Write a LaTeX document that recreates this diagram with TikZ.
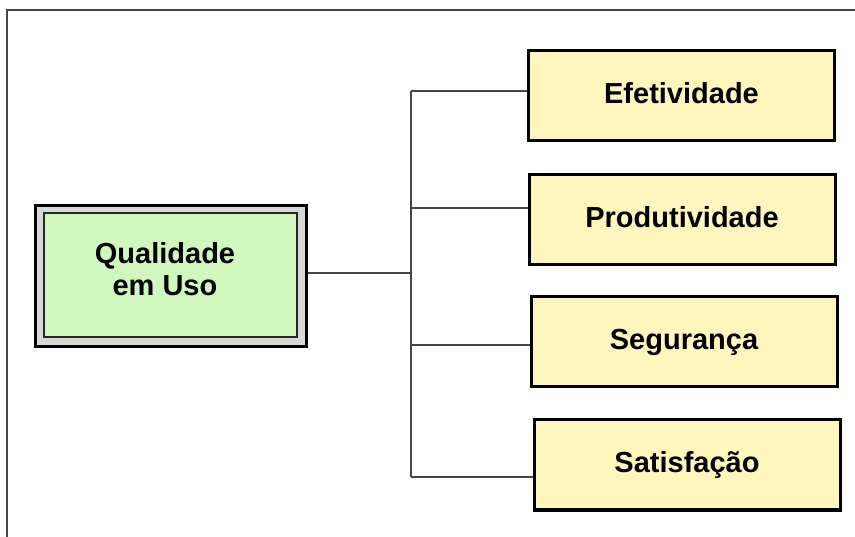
\documentclass[tikz,border=0pt]{standalone}
\usepackage{fontspec}
\setmainfont{Liberation Sans}
\definecolor{leafyellow}{HTML}{FFF6BE}
\definecolor{rootgreen}{HTML}{D0F8BE}
\definecolor{rimgray}{HTML}{D8D8D8}
\definecolor{linegray}{HTML}{454545}
\begin{document}
\begin{tikzpicture}[x=1pt,y=-1pt,
  frameline/.style={draw=linegray, line width=2pt},
  link/.style={draw=linegray, line width=1.6pt},
  labelfont/.style={font=\fontsize{29}{31.5}\selectfont\bfseries},
  leaf/.style={rectangle, draw=black, line width=3pt, fill=leafyellow,
    minimum width=306pt, minimum height=90pt, inner sep=0pt,
    text height=21pt, text depth=5pt, labelfont},
  rootrim/.style={rectangle, draw=black, line width=3pt, fill=rimgray,
    minimum width=271pt, minimum height=141pt, inner sep=0pt},
  rootcore/.style={rectangle, draw=black!85, line width=1.3pt, fill=rootgreen,
    minimum width=253pt, minimum height=124pt, inner sep=0pt},
  rootlabel/.style={align=center, inner sep=0pt, labelfont}]
  \useasboundingbox (0,0) rectangle (855,537);

  % outer frame (top and left edges)
  \coordinate (fbl) at (7,540);
  \coordinate (ftl) at (7,10);
  \coordinate (ftr) at (858,10);
  \draw[frameline] (fbl) -- (ftl) -- (ftr);

  % root box
  \node[rootrim] (root) at (171,276) {};
  \node[rootcore] (rootin) at (170.5,275) {};
  \node[rootlabel] (roottext) at (165,269) {Qualidade\\em Uso};

  % leaf boxes
  \node[leaf] (eff) at (681.5,95.5) {Efetividade};
  \node[leaf] (prod) at (682,219.5) {Produtividade};
  \node[leaf] (seg) at (684,341.5) {Segurança};
  \node[leaf] (sat) at (687,465) {Satisfação};

  % trunk junctions
  \coordinate (jroot) at (411,273);
  \coordinate (j1) at (411,91);
  \coordinate (j2) at (411,208);
  \coordinate (j3) at (411,345);
  \coordinate (j4) at (411,477);

  \draw[link] (root.east |- jroot) -- (jroot);
  \draw[link] (j1) -- (j4);
  \draw[link] (j1) -- (j1 -| eff.west);
  \draw[link] (j2) -- (j2 -| prod.west);
  \draw[link] (j3) -- (j3 -| seg.west);
  \draw[link] (j4) -- (j4 -| sat.west);
\end{tikzpicture}
\end{document}
